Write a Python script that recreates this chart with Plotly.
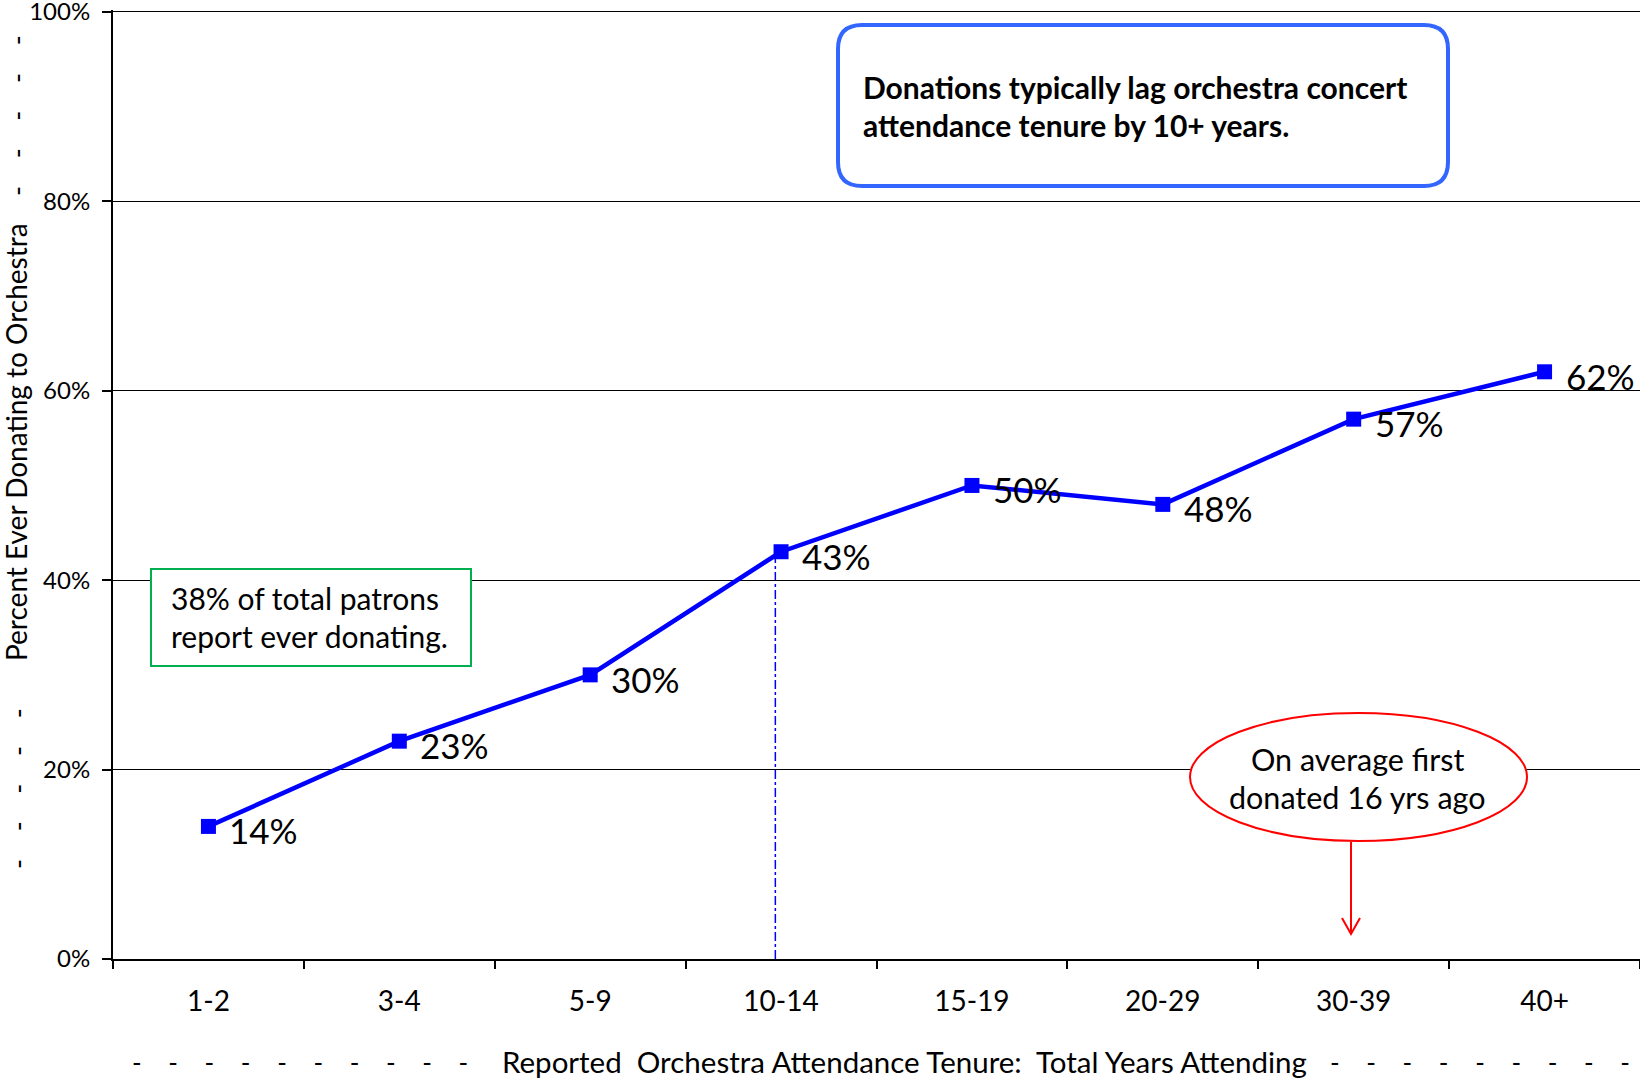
import plotly.graph_objects as go

# ---------------- data ----------------
categories = ["1-2", "3-4", "5-9", "10-14", "15-19", "20-29", "30-39", "40+"]
pct_donating = [0.14, 0.23, 0.30, 0.43, 0.50, 0.48, 0.57, 0.62]
pct_labels = ["14%", "23%", "30%", "43%", "50%", "48%", "57%", "62%"]
y_ticks = [0, 0.2, 0.4, 0.6, 0.8, 1.0]
y_tick_labels = ["0%", "20%", "40%", "60%", "80%", "100%"]

x_title_text = "Reported\u00a0\u00a0Orchestra Attendance Tenure:\u00a0\u00a0Total Years Attending"
y_title_text = "Percent Ever Donating to Orchestra"
top_note = ["Donations typically lag orchestra concert", "attendance tenure by 10+ years."]
green_note = ["38% of total patrons", "report ever donating."]
red_note = ["On average first", "donated 16 yrs ago"]
lag_category = "10-14"

# ---------------- layout geometry ----------------
W, H = 1640, 1078
L, R, T, B = 113, 0, 10, 119
PW, PH = W - L - R, H - T - B
FONT = "Lato"
NB = "\u00a0"


def px(x):
    return (x - L) / PW


def py(y):
    return (H - B - y) / PH


def pts_path(cmds):
    s = ""
    for cmd, ps in cmds:
        s += cmd + " ".join(f"{px(a):.5f},{py(b):.5f}" for a, b in ps) + " "
    return s


def rrect(x0, y0, x1, y1, r):
    cmds = [
        ("M", [(x0 + r, y0)]), ("L", [(x1 - r, y0)]), ("Q", [(x1, y0), (x1, y0 + r)]),
        ("L", [(x1, y1 - r)]), ("Q", [(x1, y1), (x1 - r, y1)]), ("L", [(x0 + r, y1)]),
        ("Q", [(x0, y1), (x0, y1 - r)]), ("L", [(x0, y0 + r)]), ("Q", [(x0, y0), (x0 + r, y0)]),
    ]
    return pts_path(cmds) + "Z"


def dashes(n):
    return "-" + (NB * 4 + "-") * (n - 1)


fig = go.Figure()
fig.add_trace(go.Scatter(
    x=categories, y=pct_donating, mode="lines+markers",
    line=dict(color="#0000FF", width=4.5),
    marker=dict(symbol="square", size=15, color="#0000FF"),
    hoverinfo="skip", showlegend=False,
))

annotations = []
for c, v, t in zip(categories, pct_donating, pct_labels):
    annotations.append(dict(x=c, y=v, xref="x", yref="y", text=t, showarrow=False,
                            xanchor="left", yanchor="middle", xshift=19, yshift=-4,
                            font=dict(family=FONT, size=35, color="black")))

# x-axis title with dash decorations
annotations.append(dict(x=px(904), y=py(1061), xref="paper", yref="paper", text=x_title_text,
                        showarrow=False, xanchor="center", yanchor="middle",
                        font=dict(family=FONT, size=29.5, color="black")))
annotations.append(dict(x=px(300), y=py(1062), xref="paper", yref="paper", text=dashes(10),
                        showarrow=False, xanchor="center", yanchor="middle",
                        font=dict(family=FONT, size=26, color="black")))
annotations.append(dict(x=px(1480), y=py(1062), xref="paper", yref="paper", text=dashes(9),
                        showarrow=False, xanchor="center", yanchor="middle",
                        font=dict(family=FONT, size=26, color="black")))
# y-axis title with dash decorations
annotations.append(dict(x=px(16), y=py(442), xref="paper", yref="paper", text=y_title_text,
                        showarrow=False, xanchor="center", yanchor="middle", textangle=-90,
                        font=dict(family=FONT, size=28, color="black")))
annotations.append(dict(x=px(17), y=py(116), xref="paper", yref="paper", text=dashes(5),
                        showarrow=False, xanchor="center", yanchor="middle", textangle=-90,
                        font=dict(family=FONT, size=27, color="black")))
annotations.append(dict(x=px(17), y=py(789), xref="paper", yref="paper", text=dashes(5),
                        showarrow=False, xanchor="center", yanchor="middle", textangle=-90,
                        font=dict(family=FONT, size=27, color="black")))

for i, line in enumerate(top_note):
    annotations.append(dict(x=px(861), y=py(87 + 38 * i), xref="paper", yref="paper",
                            text="<b>" + line + "</b>", showarrow=False, xanchor="left",
                            yanchor="middle", font=dict(family=FONT, size=30, color="black")))
for i, line in enumerate(green_note):
    annotations.append(dict(x=px(169), y=py(598 + 38 * i), xref="paper", yref="paper",
                            text=line, showarrow=False, xanchor="left", yanchor="middle",
                            font=dict(family=FONT, size=30, color="black")))
for i, line in enumerate(red_note):
    annotations.append(dict(x=px(1357), y=py(759 + 38 * i), xref="paper", yref="paper",
                            text=line, showarrow=False, xanchor="center", yanchor="middle",
                            font=dict(family=FONT, size=30.5, color="black")))

lag_idx = categories.index(lag_category)
shapes = [
    dict(type="path", path=rrect(838, 25, 1448, 186, 24), xref="paper", yref="paper",
         line=dict(color="#3366FF", width=4), fillcolor="white", layer="above"),
    dict(type="rect", x0=px(151), x1=px(471), y0=py(569), y1=py(666), xref="paper", yref="paper",
         line=dict(color="#00B050", width=2), fillcolor="white", layer="above"),
    dict(type="circle", x0=px(1190), x1=px(1527), y0=py(713), y1=py(841), xref="paper", yref="paper",
         line=dict(color="#FF0000", width=2), fillcolor="white", layer="above"),
    # red arrow: shaft and open V head
    dict(type="path", path=pts_path([("M", [(1351, 842)]), ("L", [(1351, 934)])]),
         xref="paper", yref="paper", line=dict(color="#FF0000", width=2), layer="above"),
    dict(type="path", path=pts_path([("M", [(1342, 918)]), ("L", [(1351, 934)]), ("L", [(1360, 918)])]),
         xref="paper", yref="paper", line=dict(color="#FF0000", width=2), layer="above"),
    dict(type="line", x0=lag_idx - 0.03, x1=lag_idx - 0.03, y0=0, y1=pct_donating[lag_idx],
         xref="x", yref="y", line=dict(color="#0000FF", width=1.5, dash="dashdot"), layer="below"),
]

fig.update_layout(
    width=W, height=H, margin=dict(l=L, r=R, t=T, b=B, autoexpand=False),
    paper_bgcolor="white", plot_bgcolor="white",
    font=dict(family=FONT, color="black"),
    shapes=shapes, annotations=annotations,
    xaxis=dict(type="category", range=[-0.5, len(categories) - 0.5], showgrid=False,
               showline=True, linecolor="black", linewidth=2, ticks="outside",
               tickson="boundaries", ticklen=8, tickwidth=1.5, tickcolor="black",
               tickfont=dict(family=FONT, size=28, color="black"), ticklabelstandoff=16,
               zeroline=False, fixedrange=True, automargin=False),
    yaxis=dict(range=[0, 1.002], tickvals=y_ticks, ticktext=y_tick_labels, showgrid=True,
               gridcolor="black", gridwidth=1, showline=True, linecolor="black", linewidth=2,
               ticks="outside", ticklen=9, tickwidth=1.5, tickcolor="black",
               tickfont=dict(family=FONT, size=24, color="black"), ticklabelstandoff=7,
               ticklabeloverflow="allow", zeroline=False, fixedrange=True, automargin=False),
)

fig.write_html("out.html")
